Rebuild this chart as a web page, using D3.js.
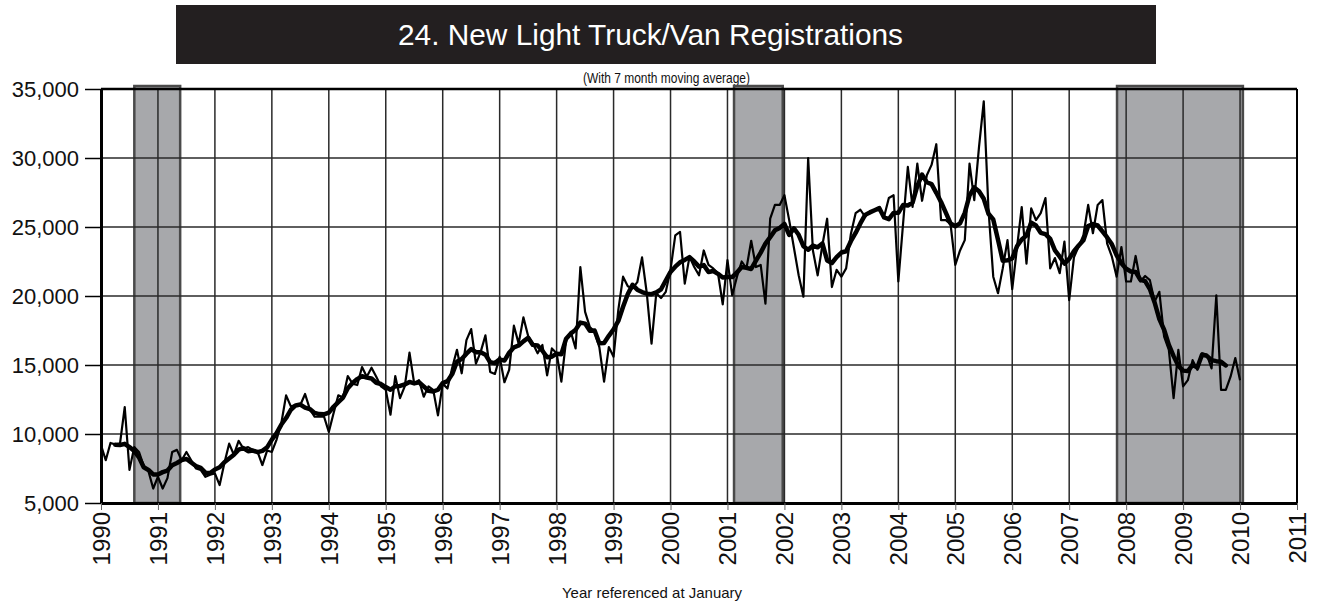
<!DOCTYPE html>
<html>
<head>
<meta charset="utf-8">
<script src="https://cdn.jsdelivr.net/npm/d3@7"></script>
<style>
  body { margin: 0; background: #fff; }
  svg { display: block; }
  text { font-family: "Liberation Sans", Arial, Helvetica, sans-serif; }
</style>
</head>
<body>
<svg id="chart" width="1318" height="605"></svg>
<script>
// Monthly new light truck / van registrations, January 1990 onward
const startYear = 1990;
const registrations = [
  // 1990
  9200, 8100, 9350, 9250, 9300, 11950, 7400, 9050, 8700, 7700, 7300, 6050,
  // 1991
  6900, 6050, 6800, 8700, 8850, 8100, 8700, 8100, 7500, 7400, 6900, 7050,
  // 1992
  7150, 6300, 7900, 9300, 8500, 9500, 8950, 9050, 8850, 8700, 7750, 8800,
  // 1993
  8700, 9600, 10800, 12800, 12000, 12100, 12100, 12900, 11800, 11250, 11250, 11250,
  // 1994
  10150, 11500, 12800, 12650, 14200, 13650, 13550, 14850, 14150, 14800, 14150, 13450,
  // 1995
  13200, 11400, 14200, 12600, 13450, 15900, 13650, 13900, 12700, 13450, 13200, 11350,
  // 1996
  13650, 13300, 14800, 16100, 14400, 16800, 17600, 15100, 15950, 17150, 14500, 14350,
  // 1997
  15600, 13750, 14650, 17850, 16550, 18450, 17100, 16550, 15850, 16450, 14250, 16200,
  // 1998
  15850, 13800, 16800, 17400, 16200, 22100, 18850, 17750, 17400, 16300, 13800, 16300,
  // 1999
  15600, 19000, 21400, 20700, 20550, 21000, 22800, 20200, 16550, 20200, 19850, 20300,
  // 2000
  21900, 24400, 24650, 20900, 22850, 22100, 21500, 23300, 22250, 22000, 21650, 19400,
  // 2001
  22600, 20050, 21400, 22500, 22000, 24000, 22100, 22250, 19450, 25600, 26600, 26600,
  // 2002
  27300, 25500, 23500, 21500, 19950, 30000, 23300, 21500, 23700, 25600, 20650, 21900,
  // 2003
  21400, 22000, 24500, 26000, 26250, 25750, 26100, 26200, 26350, 25750, 27100, 27300,
  // 2004
  21050, 25250, 29350, 26450, 29600, 26900, 28750, 29500, 31000, 25500, 25500, 25200,
  // 2005
  22250, 23300, 24050, 29600, 26950, 30800, 34100, 26250, 21400, 20200, 22000, 24050,
  // 2006
  20500, 23500, 26450, 22350, 26350, 25500, 26000, 27100, 22000, 22750, 21650, 23950,
  // 2007
  19700, 22800, 23600, 24400, 26600, 24550, 26600, 26950, 23800, 22850, 21400, 23550,
  // 2008
  21050, 21050, 22900, 21050, 21450, 21150, 19600, 20300, 17050, 16100, 12600, 16100,
  // 2009
  13450, 13900, 15350, 14650, 15850, 15750, 14750, 20050, 13200, 13200, 14150, 15500,
  // 2010
  13900
];

const movingWindow = 7;                       // months in the centred moving average
const yTickValues = [5000, 10000, 15000, 20000, 25000, 30000, 35000];
const yearTicks = d3.range(1990, 2012);
const recessions = [[1990.585, 1991.39], [2001.115, 2001.97], [2007.84, 2010.05]];

const titleText = "24. New Light Truck/Van Registrations";
const subtitleText = "(With 7 month moving average)";
const xAxisTitle = "Year referenced at January";

// ---- layout ----
const plot = { left: 101, right: 1297, top: 89, bottom: 503 };
const svg = d3.select("#chart");

const x = d3.scaleLinear().domain([1990, 2011]).range([plot.left, plot.right]);
const y = d3.scaleLinear().domain([5000, 35000]).range([plot.bottom, plot.top]);

const monthly = registrations.map((v, i) => ({ t: startYear + i / 12, v }));
const half = Math.floor(movingWindow / 2);
const smoothed = monthly.slice(half, monthly.length - half).map((d, i) => ({
  t: d.t,
  v: d3.mean(registrations.slice(i, i + movingWindow))
}));

// ---- heading ----
svg.append("rect")
  .attr("x", 176).attr("y", 5).attr("width", 980).attr("height", 59)
  .attr("fill", "#231f20");
svg.append("text")
  .attr("x", 398).attr("y", 45)
  .attr("fill", "#fff")
  .attr("font-size", 30)
  .attr("textLength", 505).attr("lengthAdjust", "spacingAndGlyphs")
  .text(titleText);
svg.append("text")
  .attr("x", 583).attr("y", 83)
  .attr("fill", "#111")
  .attr("font-size", 15)
  .attr("textLength", 167).attr("lengthAdjust", "spacingAndGlyphs")
  .text(subtitleText);

// ---- recession bands ----
svg.append("g").selectAll("rect")
  .data(recessions)
  .join("rect")
  .attr("x", d => x(d[0]))
  .attr("y", plot.top - 3)
  .attr("width", d => x(d[1]) - x(d[0]))
  .attr("height", plot.bottom - plot.top + 3)
  .attr("fill", "#a7a8ab")
  .attr("stroke", "#4a4a4a")
  .attr("stroke-width", 2.5);

// ---- grid ----
const grid = svg.append("g").attr("stroke", "#2a2a2a").attr("stroke-width", 1.5);
grid.selectAll(".h").data(yTickValues).join("line")
  .attr("class", "h")
  .attr("x1", plot.left).attr("x2", plot.right)
  .attr("y1", d => y(d)).attr("y2", d => y(d));
grid.selectAll(".v").data(yearTicks).join("line")
  .attr("class", "v")
  .attr("x1", d => x(d)).attr("x2", d => x(d))
  .attr("y1", plot.top).attr("y2", plot.bottom);

// ---- series ----
const line = d3.line().x(d => x(d.t)).y(d => y(d.v));
svg.append("path")
  .datum(monthly)
  .attr("d", line)
  .attr("fill", "none")
  .attr("stroke", "#000")
  .attr("stroke-width", 2.2)
  .attr("stroke-linejoin", "round");
svg.append("path")
  .datum(smoothed)
  .attr("d", line)
  .attr("fill", "none")
  .attr("stroke", "#000")
  .attr("stroke-width", 4.5)
  .attr("stroke-linejoin", "round")
  .attr("stroke-linecap", "round");

// ---- frame ----
svg.append("line")
  .attr("x1", plot.left).attr("x2", plot.right)
  .attr("y1", plot.top).attr("y2", plot.top)
  .attr("stroke", "#000").attr("stroke-width", 2.5);
svg.append("line")
  .attr("x1", plot.right).attr("x2", plot.right)
  .attr("y1", plot.top).attr("y2", plot.bottom)
  .attr("stroke", "#000").attr("stroke-width", 2);

// ---- axes ----
const yAxis = svg.append("g")
  .attr("transform", `translate(${plot.left},0)`)
  .call(d3.axisLeft(y).tickValues(yTickValues).tickFormat(d3.format(","))
    .tickSize(16).tickSizeOuter(0).tickPadding(6));
yAxis.select(".domain").attr("stroke-width", 3);
yAxis.selectAll(".tick line").attr("stroke-width", 1.5);
yAxis.selectAll("text").attr("font-size", 22).attr("fill", "#111")
  .attr("font-family", "'Liberation Sans', Arial, sans-serif");

const xAxis = svg.append("g")
  .attr("transform", `translate(0,${plot.bottom})`)
  .call(d3.axisBottom(x).tickValues(yearTicks).tickFormat(d3.format("d"))
    .tickSize(7).tickSizeOuter(0));
xAxis.select(".domain").attr("stroke-width", 3);
xAxis.selectAll(".tick line").attr("stroke", "#666").attr("stroke-width", 1);
xAxis.selectAll("text")
  .attr("transform", "rotate(-90)")
  .attr("x", -9).attr("y", 0).attr("dy", "0.35em")
  .attr("text-anchor", "end")
  .attr("font-size", 24).attr("fill", "#111")
  .attr("font-family", "'Liberation Sans', Arial, sans-serif");

svg.append("text")
  .attr("x", 562).attr("y", 598)
  .attr("fill", "#111")
  .attr("font-size", 15)
  .attr("textLength", 180).attr("lengthAdjust", "spacingAndGlyphs")
  .text(xAxisTitle);
</script>
</body>
</html>
